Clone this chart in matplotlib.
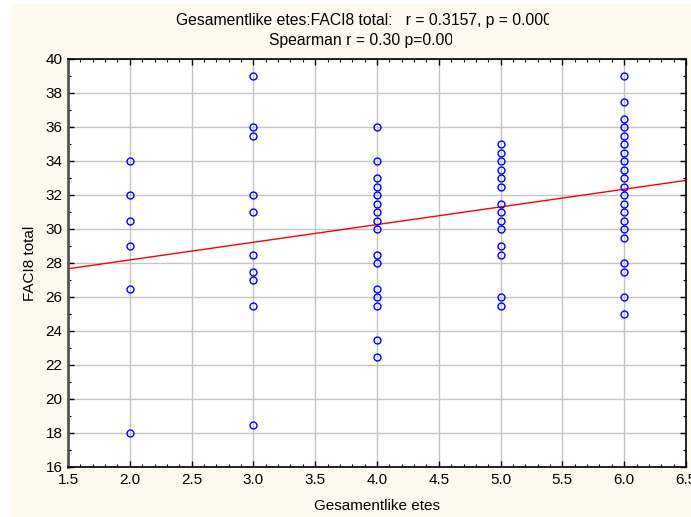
import numpy as np
import matplotlib
matplotlib.use("Agg")
import matplotlib.pyplot as plt
from matplotlib.patches import Rectangle
from matplotlib.ticker import MultipleLocator, FormatStrFormatter
from matplotlib.transforms import Bbox

plt.rcParams['font.family'] = ['Liberation Sans', 'DejaVu Sans']

# ---- data ----
x_values = [2.0, 3.0, 4.0, 5.0, 6.0]
faci_2 = [34, 32, 30.5, 29, 26.5, 18]
faci_3 = [39, 36, 35.5, 32, 31, 28.5, 27.5, 27, 25.5, 18.5]
faci_4 = [36, 34, 33, 32.5, 32, 31.5, 31, 30.5, 30, 28.5, 28, 26.5, 26, 25.5, 23.5, 22.5]
faci_5 = [35, 34.5, 34, 33.5, 33, 32.5, 31.5, 31, 30.5, 30, 29, 28.5, 26, 25.5]
faci_6 = [39, 37.5, 36.5, 36, 35.5, 35, 34.5, 34, 33.5, 33, 32.5, 32, 31.5, 31,
          30.5, 30, 29.5, 28, 27.5, 26, 25]
groups = [faci_2, faci_3, faci_4, faci_5, faci_6]

# fitted regression line (overlapping points hidden)
fit_intercept = 26.1
fit_slope = 1.04

title_line1 = "Gesamentlike etes:FACI8 total:   r = 0.3157, p = 0.0000"
title_line2 = "Spearman r = 0.30 p=0.0000"
x_label = "Gesamentlike etes"
y_label = "FACI8 total"

xs = np.concatenate([[xv] * len(g) for xv, g in zip(x_values, groups)])
ys = np.concatenate(groups)

W, H = 691, 517
FS = 11
fig = plt.figure(figsize=(W / 100, H / 100), dpi=100, facecolor='white')
fig.patches.append(Rectangle((11 / W, 0), (W - 11) / W, (H - 4) / H,
                             transform=fig.transFigure, facecolor='#FEFAEF',
                             edgecolor='none', zorder=-10))

ax = fig.add_axes([68 / W, (H - 467) / H, (686 - 68) / W, (467 - 59) / H])
ax.set_facecolor('white')
ax.set_xlim(1.5, 6.5)
ax.set_ylim(16, 40)
ax.xaxis.set_major_locator(MultipleLocator(0.5))
ax.xaxis.set_minor_locator(MultipleLocator(0.1))
ax.yaxis.set_major_locator(MultipleLocator(2))
ax.yaxis.set_minor_locator(MultipleLocator(1))
ax.xaxis.set_major_formatter(FormatStrFormatter('%.1f'))
ax.grid(True, which='major', color='#c4c4c4', lw=1.0)
ax.set_axisbelow(True)

ax.tick_params(which='both', direction='in', top=True, right=True,
               labelsize=FS, colors='black', pad=4)
ax.tick_params(which='major', length=4, width=1)
ax.tick_params(which='minor', length=2.5, width=0.8)

for side in ['top', 'right', 'bottom']:
    ax.spines[side].set_color('black')
    ax.spines[side].set_linewidth(1.2)
ax.spines['left'].set_color('#555555')
ax.spines['left'].set_linewidth(2)

lx = np.array([1.5, 6.5])
ax.plot(lx, fit_intercept + fit_slope * lx, color='red', lw=1.0, zorder=2)
ax.plot(xs, ys, linestyle='none', marker='o', markersize=5,
        markerfacecolor='none', markeredgecolor='blue', markeredgewidth=1.0,
        zorder=3)

ax.set_xlabel(x_label, fontsize=FS, labelpad=9)
ax.set_ylabel(y_label, fontsize=FS, labelpad=6)

t1 = fig.text(176 / W, 1 - 20 / H, title_line1, fontsize=11.3, ha='left', va='center')
t1.set_clip_box(Bbox.from_extents(0, 0, 549, H))
t2 = fig.text(269 / W, 1 - 41 / H, title_line2, fontsize=11.3, ha='left', va='center')
t2.set_clip_box(Bbox.from_extents(0, 0, 452, H))

fig.savefig('out.png', dpi=100, facecolor=fig.get_facecolor())
